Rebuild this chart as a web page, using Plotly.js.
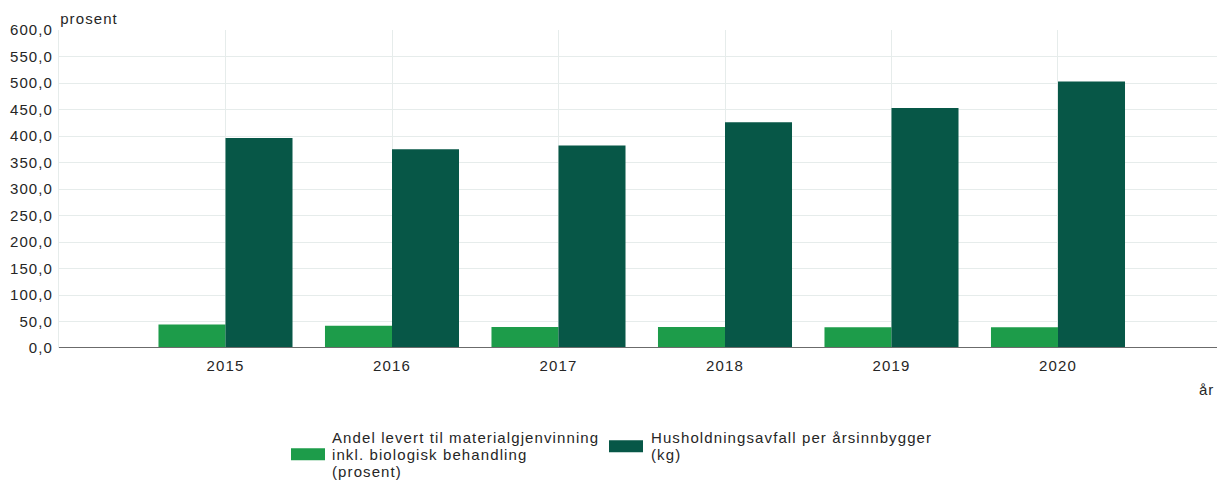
<!DOCTYPE html>
<html>
<head>
<meta charset="utf-8">
<script src="https://cdn.plot.ly/plotly-3.0.1.min.js"></script>
<style>
html,body{margin:0;padding:0;background:#fff;}
#chart{width:1217px;height:481px;}
#chart .main-svg text{letter-spacing:1.1px;}
</style>
</head>
<body>
<div id="chart"></div>
<script>
const years = ["2015", "2016", "2017", "2018", "2019", "2020"];
const andelMaterial = [44.3, 42.0, 39.5, 39.5, 39.3, 39.3];
const husholdningsavfall = [396, 375, 382, 426, 453, 503];
const seriesNames = [
  "Andel levert til materialgjenvinning<br>inkl. biologisk behandling<br>(prosent)",
  "Husholdningsavfall per årsinnbygger<br>(kg)"
];
const seriesColors = ["#1d9c4a", "#075747"];
const yTitle = "prosent";
const xTitle = "år";

const traces = [
  {type: "bar", x: years, y: andelMaterial, name: seriesNames[0],
   marker: {color: seriesColors[0], line: {width: 0}}, showlegend: false},
  {type: "bar", x: years, y: husholdningsavfall, name: seriesNames[1],
   marker: {color: seriesColors[1], line: {width: 0}}, showlegend: false}
];

const L = 59, T = 30, W = 1158, H = 318.5;
const px = x => (x - L) / W;
const py = y => (T + H - y) / H;

const font = {family: "Liberation Sans, Arial, sans-serif", size: 15, color: "#262626"};

const annotations = [
  {xref: "paper", yref: "paper", x: px(62), y: py(18), xanchor: "left", yanchor: "middle",
   text: yTitle, showarrow: false, font: font},
  {xref: "paper", yref: "paper", x: px(1215), y: py(390), xanchor: "right", yanchor: "middle",
   text: xTitle, showarrow: false, font: font}
];
const legendX = [330, 649];
const lineY0 = 438, lineStep = 17;
seriesNames.forEach((nm, i) => {
  nm.split("<br>").forEach((ln, j) => {
    annotations.push({xref: "paper", yref: "paper", x: px(legendX[i]), y: py(lineY0 + j * lineStep),
      xanchor: "left", yanchor: "middle", align: "left", text: ln, showarrow: false, font: font});
  });
});

const layout = {
  width: 1217, height: 481,
  margin: {l: L, r: 0, t: T, b: 481 - T - H, pad: 0},
  paper_bgcolor: "#fff", plot_bgcolor: "#fff",
  font: font,
  barmode: "group", bargap: 0.195, bargroupgap: 0,
  xaxis: {
    type: "category", range: [-1, 5.955], fixedrange: true,
    showgrid: true, gridcolor: "#e6eceb", gridwidth: 1,
    ticks: "", tickfont: font, showline: false, zeroline: false,
    ticklabelstandoff: 7
  },
  yaxis: {
    range: [0, 600], dtick: 50, tick0: 0, tickformat: ".1f",
    showgrid: true, gridcolor: "#e6eceb", gridwidth: 1,
    showline: true, linecolor: "#e6eceb", linewidth: 1,
    ticks: "", tickfont: font, zeroline: false, fixedrange: true,
    ticklabelstandoff: 2
  },
  separators: ", ",
  shapes: [
    {type: "line", xref: "paper", yref: "y", x0: 0, x1: 1, y0: 0, y1: 0,
     line: {color: "#6b6b6b", width: 2}},
    {type: "rect", xref: "paper", yref: "paper", x0: px(291), x1: px(325), y0: py(449), y1: py(461),
     fillcolor: seriesColors[0], line: {width: 0}},
    {type: "rect", xref: "paper", yref: "paper", x0: px(609), x1: px(643), y0: py(441), y1: py(453),
     fillcolor: seriesColors[1], line: {width: 0}}
  ],
  annotations: annotations
};

Plotly.newPlot("chart", traces, layout, {displayModeBar: false, staticPlot: true});
</script>
</body>
</html>
